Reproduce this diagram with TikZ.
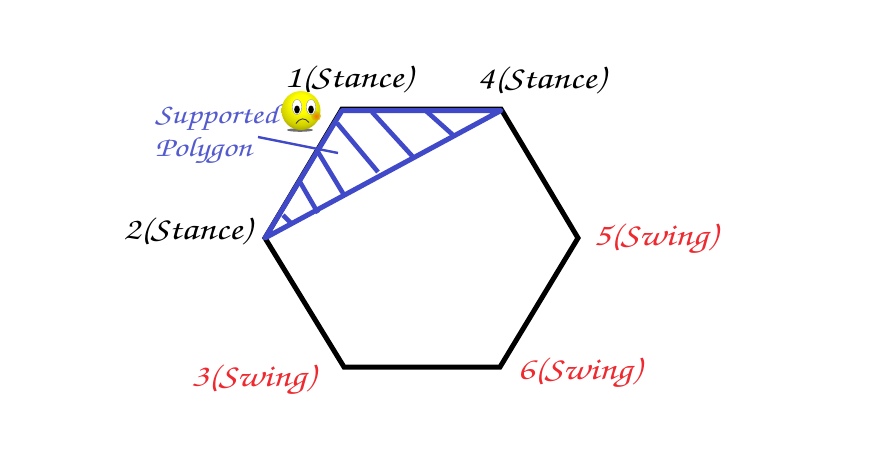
\documentclass[tikz,border=0pt]{standalone}
\usepackage[T1]{fontenc}
\usetikzlibrary{positioning, calc}
\definecolor{polyblue}{HTML}{4049C8}
\definecolor{swingred}{HTML}{EE2A30}
\newcommand{\handtext}[1]{\scalebox{1.22}[1]{#1}}
\pgfdeclareradialshading{smileyball}{\pgfpoint{0bp}{10bp}}{
    color(0bp)=(yellow); color(12bp)=(yellow); color(26bp)=(yellow!82!black);
    color(36bp)=(yellow!55!black); color(50bp)=(yellow!25!black); color(100bp)=(yellow!25!black)}
\tikzset{
    hexedge/.style={line width=5pt, line join=miter},
    polyedge/.style={polyblue, line width=5pt, line join=round},
    hatch/.style={polyblue, line width=4.6pt},
    legtext/.style={font=\fontsize{32}{36}\usefont{T1}{pzc}{mb}{it}, inner sep=0pt},
    stancetext/.style={legtext, black},
    swingtext/.style={legtext, swingred},
    polytext/.style={legtext, font=\fontsize{28}{32}\usefont{T1}{pzc}{mb}{it}, polyblue!90!white, anchor=west}
}
\begin{document}
\begin{tikzpicture}[x=1pt, y=-1pt]
\useasboundingbox (0,0) rectangle (885,475);
% Hexagon corners
\coordinate (leg1) at (342,109);
\coordinate (leg2) at (265,238);
\coordinate (leg3) at (344,367);
\coordinate (leg4) at (501,109);
\coordinate (leg5) at (578,238);
\coordinate (leg6) at (500,367);
\draw[hexedge] (leg1) -- (leg4) -- (leg5) -- (leg6) -- (leg3) -- (leg2) -- cycle;
% Support polygon
\coordinate (sup1) at (342,110.5);
\coordinate (sup4) at (501,110.5);
\draw[polyedge] (leg2) -- (sup1) -- (sup4) -- cycle;
\foreach \xa/\ya/\xb/\yb in {337/123/378/172, 372/112/414/158, 425/110/453/135, 318/152/344/195, 300/182/318/213, 283/215/292/224} {
    \draw[hatch] (\xa,\ya) -- (\xb,\yb);
}
% Pointer of the label
\coordinate (ptr1) at (258,137);
\coordinate (ptr2) at (338,153);
\draw[polyblue, line width=2.4pt] (ptr1) -- (ptr2);
% Leg labels
\foreach \name/\x/\y/\kind/\txt in {lab1/348/80/stancetext/1(Stance), lab4/541/81/stancetext/4(Stance), lab2/187/232/stancetext/2(Stance), lab5/655/240/swingtext/5(Swing), lab3/253/381/swingtext/3(Swing), lab6/579/374/swingtext/6(Swing)} {
    \node[\kind] (\name) at (\x,\y) {\handtext{\txt}};
}
\node[polytext] (supported) at (155,118) {\handtext{Supported}};
\node[polytext] (polygon) at (155,151) {\handtext{Polygon}};
% Sad face
\fill[black!80, opacity=0.7] (300,130) ellipse (13 and 1.8);
\shade[shading=smileyball] (301,110.5) circle (19.5);
\shade[inner color=orange!70!red, outer color=yellow!80!black, opacity=0.8] (316,116) circle (5);
\foreach \x in {297,311} {
    \fill[white, draw=black!50, line width=0.3pt] (\x,107) ellipse (4.8 and 7.5);
    \fill[black] (\x,109.5) ellipse (2.8 and 4);
}
\draw[black!85!yellow, line width=0.9pt] (296,123.5) .. controls (300,117.5) and (305,117.5) .. (309,122.5);
\end{tikzpicture}
\end{document}
